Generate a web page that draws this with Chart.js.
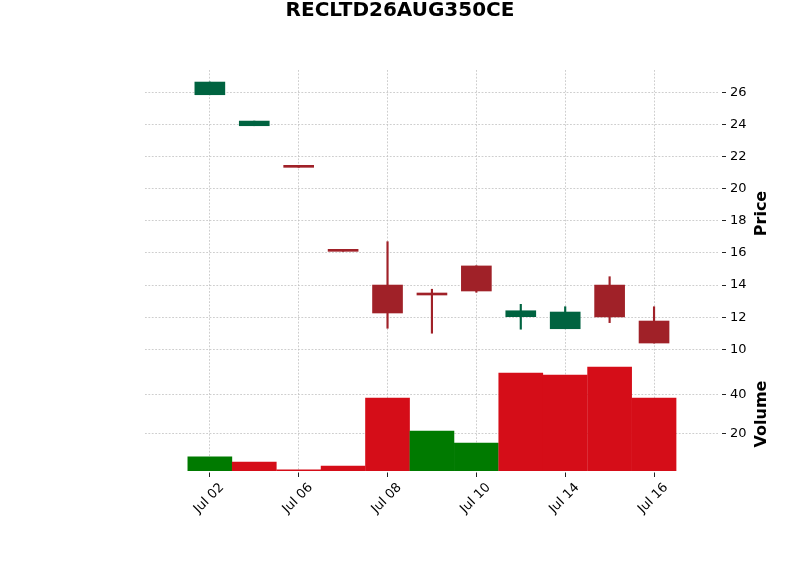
<!DOCTYPE html>
<html><head><meta charset="utf-8">
<script src="https://cdn.jsdelivr.net/npm/chart.js@4/dist/chart.umd.min.js"></script>
<style>html,body{margin:0;padding:0;background:#fff}</style>
</head><body>
<canvas id="c" width="800" height="575"></canvas>
<script>
const chartTitle = 'RECLTD26AUG350CE';
const dates  = ['Jul 02','Jul 03','Jul 06','Jul 07','Jul 08','Jul 09','Jul 10','Jul 13','Jul 14','Jul 15','Jul 16'];
const opens  = [25.85, 23.92, 21.33, 16.10, 14.00, 13.40, 15.19, 12.03, 11.28, 14.00, 11.76];
const highs  = [26.64, 24.21, 21.33, 16.10, 16.70, 13.74, 15.20, 12.80, 12.65, 14.52, 12.65];
const lows   = [25.85, 23.92, 21.33, 16.10, 11.31, 11.00, 13.55, 11.25, 11.28, 11.66, 10.39];
const closes = [26.64, 24.21, 21.33, 16.10, 12.26, 13.38, 13.63, 12.40, 12.32, 12.01, 10.39];
const volumes = [8.0, 5.3, 1.3, 3.2, 38.1, 21.2, 15.0, 50.9, 49.9, 54.0, 38.1];
const priceTicks = [10, 12, 14, 16, 18, 20, 22, 24, 26];
const volumeTicks = [20, 40];
const dateTickIdx = [0, 2, 4, 6, 8, 10];

const FONT = '"DejaVu Sans", sans-serif';
const UP = '#006340', DOWN = '#a02128', VUP = '#007a00', VDOWN = '#d50d18';
const GRID = '#c2c2c2';
const candleColors = opens.map((o, i) => o < closes[i] ? UP : DOWN);
const volColors = closes.map((c, i) => i === 0 ? (opens[0] < c ? VUP : VDOWN) : (c >= closes[i - 1] ? VUP : VDOWN));

const wickData = dates.map((d, i) => ({x: i, y: [lows[i], highs[i]]}));
const bodyData = dates.map((d, i) => ({x: i, y: [opens[i], closes[i]]}));
const volData  = dates.map((d, i) => ({x: i, y: volumes[i]}));

const textLayer = {
  id: 'textLayer',
  afterDraw(chart) {
    const c = chart.ctx;
    c.save();
    c.fillStyle = '#000';
    c.textAlign = 'center';
    c.textBaseline = 'middle';
    c.font = 'bold 20px ' + FONT;
    c.fillText(chartTitle, chart.width / 2, 11);
    c.font = 'bold 16px ' + FONT;
    [[chart.scales.y, 'Price'], [chart.scales.yv, 'Volume']].forEach(([s, t]) => {
      c.save();
      c.translate(s.right - 38, (s.top + s.bottom) / 2);
      c.rotate(-Math.PI / 2);
      c.fillText(t, 0, 0);
      c.restore();
    });
    c.restore();
  }
};

const yTickOpts = {font: {family: FONT, size: 13}, color: '#000', padding: 4, autoSkip: false};
const yGrid = {color: GRID, lineWidth: 0.8, tickColor: '#222', tickLength: 8, tickWidth: 1, tickBorderDash: [0, 4, 4, 100]};
const gridDash = [1.8, 1.6];

new Chart(document.getElementById('c'), {
  type: 'bar',
  data: {datasets: [
    {label: 'Wick', data: wickData, yAxisID: 'y', backgroundColor: candleColors, barThickness: 1.5, grouped: false, order: 2},
    {label: 'Body', data: bodyData, yAxisID: 'y', backgroundColor: candleColors, barThickness: 30, grouped: false, minBarLength: 2, order: 1},
    {label: 'Volume', data: volData, yAxisID: 'yv', backgroundColor: volColors, barThickness: 44, grouped: false, order: 3}
  ]},
  options: {
    responsive: false, animation: false,
    layout: {padding: {left: 145, right: 0, top: 70, bottom: 0}},
    plugins: {legend: {display: false}, tooltip: {enabled: false}, title: {display: false}},
    scales: {
      x: {
        type: 'linear', min: -1.46, max: 11.44, offset: false,
        grid: {offset: false, color: GRID, lineWidth: 0.8, tickColor: '#222', tickLength: 6, tickWidth: 1, tickBorderDash: [0, 1.5, 4.5, 100]},
        border: {display: false, dash: gridDash},
        afterBuildTicks: s => { s.ticks = dateTickIdx.map(v => ({value: v})); },
        ticks: {callback: v => dates[v], minRotation: 45, maxRotation: 45, autoSkip: false, font: {family: FONT, size: 13}, color: '#000', labelOffset: 12, padding: 3},
        afterFit: s => { s.height = 104; }
      },
      y: {
        type: 'linear', position: 'right', stack: 'panels', stackWeight: 287, min: 9.52, max: 27.39,
        grid: yGrid, border: {display: false, dash: gridDash}, ticks: yTickOpts,
        afterBuildTicks: s => { s.ticks = priceTicks.map(v => ({value: v})); },
        afterFit: s => { s.width = 82; }
      },
      yv: {
        type: 'linear', position: 'right', stack: 'panels', stackWeight: 114, min: 0.67, max: 59.13,
        grid: yGrid, border: {display: false, dash: gridDash}, ticks: yTickOpts,
        afterBuildTicks: s => { s.ticks = volumeTicks.map(v => ({value: v})); },
        afterFit: s => { s.width = 82; }
      }
    }
  },
  plugins: [textLayer]
});
</script>
</body></html>
